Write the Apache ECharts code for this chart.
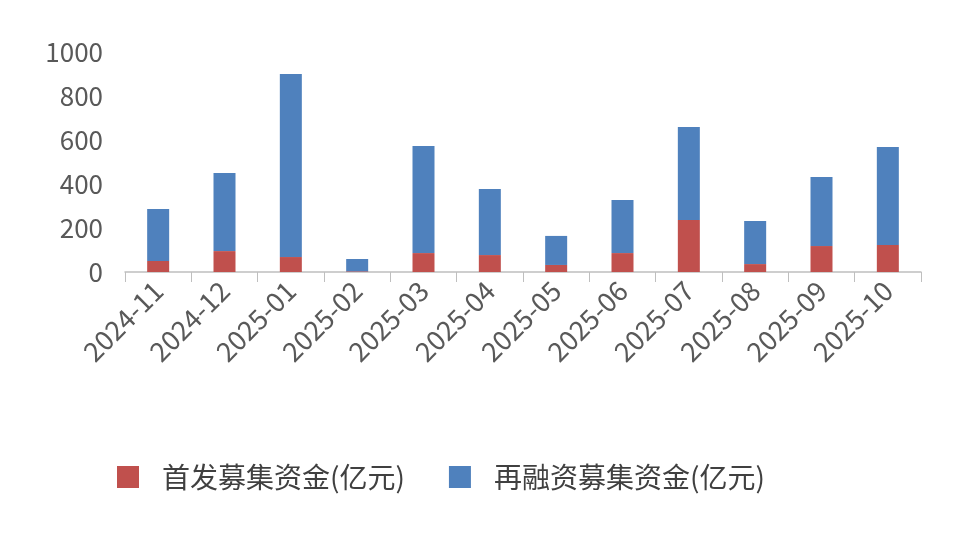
<!DOCTYPE html>
<html><head><meta charset="utf-8">
<script src="https://cdn.jsdelivr.net/npm/echarts@6/dist/echarts.min.js"></script>
<style>body{margin:0}#c{width:971px;height:538px}</style></head>
<body><div id="c"></div>
<script>
const categories=['2024-11','2024-12','2025-01','2025-02','2025-03','2025-04','2025-05','2025-06','2025-07','2025-08','2025-09','2025-10'];
const ipo=[50,95,68,3,86,77,32,86,236,36,118,123];
const refi=[236,355,832,56,487,300,132,241,423,196,314,445];
const yTicks=[0,200,400,600,800,1000];
const font='"Noto Sans CJK SC", sans-serif';
const c=echarts.init(document.getElementById('c'));
c.setOption({
 animation:false,
 grid:{left:125,right:50,top:52,bottom:266},
 legend:{top:458,left:112,itemWidth:22,itemHeight:22,itemGap:44,icon:'rect',
   textStyle:{fontSize:28,color:'#404040',fontFamily:font,padding:[0,0,0,18]},
   data:['首发募集资金(亿元)','再融资募集资金(亿元)']},
 xAxis:{type:'category',data:categories,
   axisLine:{lineStyle:{color:'#bfbfbf',width:1.5}},
   axisTick:{show:true,length:10,lineStyle:{color:'#bfbfbf'}},
   axisLabel:{rotate:45,fontSize:27,color:'#595959',fontFamily:font,margin:14}},
 yAxis:{type:'value',min:0,max:1000,interval:200,splitLine:{show:false},
   axisLine:{show:false},axisTick:{show:false},
   axisLabel:{fontSize:26,color:'#595959',fontFamily:font,margin:22,formatter:v=>String(v)}},
 series:[
  {name:'首发募集资金(亿元)',type:'bar',stack:'a',data:ipo,barWidth:22,itemStyle:{color:'#c0504d'}},
  {name:'再融资募集资金(亿元)',type:'bar',stack:'a',data:refi,barWidth:22,itemStyle:{color:'#4f81bd'}}
 ]
});
</script></body></html>
